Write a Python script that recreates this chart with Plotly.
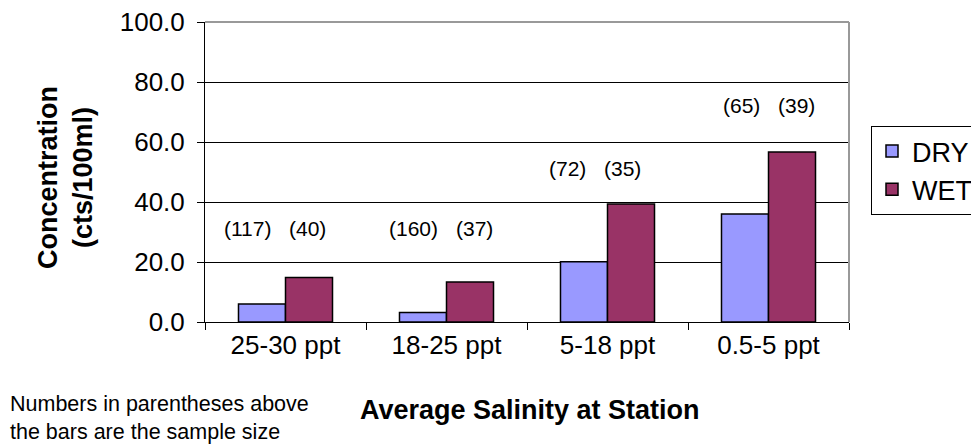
import plotly.graph_objects as go

categories = ["25-30 ppt", "18-25 ppt", "5-18 ppt", "0.5-5 ppt"]
dry_values = [6.0, 3.2, 20.1, 36.0]
wet_values = [14.8, 13.3, 39.3, 56.7]
dry_n = [117, 160, 72, 65]
wet_n = [40, 37, 35, 39]
label_y = [31.3, 31.3, 51.3, 72.3]
label_xshift = [-5.5, 0, -12.5, 0]

FONT = "Liberation Sans, Arial, sans-serif"

fig = go.Figure()
fig.add_trace(go.Bar(name="DRY", x=categories, y=dry_values,
                     marker=dict(color="#9999FF", line=dict(color="black", width=1.5))))
fig.add_trace(go.Bar(name="WET", x=categories, y=wet_values,
                     marker=dict(color="#993366", line=dict(color="black", width=1.5))))

annotations = []
for c, dn, wn, ly, xs in zip(categories, dry_n, wet_n, label_y, label_xshift):
    annotations.append(dict(x=c, y=ly, xref="x", yref="y", text=f"({dn})", xanchor="right",
                            showarrow=False, xshift=xs - 7, font=dict(family=FONT, size=21, color="black")))
    annotations.append(dict(x=c, y=ly, xref="x", yref="y", text=f"({wn})", xanchor="left",
                            showarrow=False, xshift=xs + 7, font=dict(family=FONT, size=21, color="black")))

annotations.append(dict(xref="paper", yref="paper", x=(65 - 205) / 644, y=(322 - 178) / 300,
                        xanchor="center", yanchor="middle",
                        text="<b>Concentration<br>(cts/100ml)</b>", textangle=-90, showarrow=False,
                        font=dict(family=FONT, size=27, color="black")))
annotations.append(dict(xref="paper", yref="paper", x=(530 - 205) / 644, y=-(410 - 322) / 300,
                        xanchor="center", yanchor="middle",
                        text="<b>Average Salinity at Station</b>", showarrow=False,
                        font=dict(family=FONT, size=27, color="black")))
annotations.append(dict(xref="paper", yref="paper", x=-(205 - 8) / 644, y=-(418 - 322) / 300,
                        xanchor="left", yanchor="middle", align="left",
                        text="Numbers in parentheses above<br>the bars are the sample size", showarrow=False,
                        font=dict(family=FONT, size=21.5, color="black")))

fig.update_layout(
    width=971, height=447,
    margin=dict(l=205, r=122, t=22, b=125, autoexpand=False),
    paper_bgcolor="white", plot_bgcolor="white",
    barmode="group", bargap=0.416, bargroupgap=0,
    font=dict(family=FONT, size=26, color="black"),
    showlegend=True,
    legend=dict(x=(871 - 205) / 644, y=(322 - 126) / 300, xanchor="left", yanchor="top",
                bordercolor="black", borderwidth=1, bgcolor="white",
                font=dict(family=FONT, size=27, color="black")),
    annotations=annotations,
    shapes=[
        dict(type="line", xref="paper", yref="paper", x0=0, x1=1, y0=1, y1=1,
             line=dict(color="#999999", width=2)),
        dict(type="line", xref="paper", yref="paper", x0=1, x1=1, y0=0, y1=1,
             line=dict(color="#999999", width=2)),
    ],
)
fig.update_xaxes(showline=True, linecolor="black", linewidth=1, ticks="outside", tickson="boundaries",
                 ticklen=7, tickcolor="black", showgrid=False,
                 tickfont=dict(family=FONT, size=26, color="black"))
fig.update_yaxes(range=[0, 100], dtick=20, tickformat=".1f", showline=True, linecolor="black", linewidth=1,
                 ticks="outside", ticklen=7, tickcolor="black", showgrid=True, gridcolor="black", gridwidth=1,
                 zeroline=False, ticklabelstandoff=7,
                 tickfont=dict(family=FONT, size=26, color="black"))

fig.write_html("out.html")
